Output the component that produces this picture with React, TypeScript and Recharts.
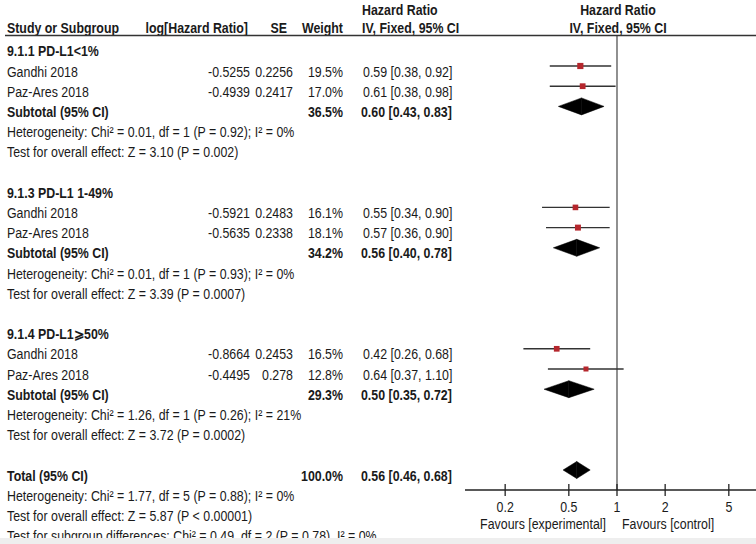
import { ComposedChart, XAxis, YAxis, Scatter, ReferenceLine, ReferenceArea } from "recharts"

// forest plot data
const subgroups = ["9.1.1 PD-L1<1%", "9.1.3 PD-L1 1-49%", "9.1.4 PD-L1⩾50%"]
const studyNames = ["Gandhi 2018", "Paz-Ares 2018"]
const logHR = [[-0.5255, -0.4939], [-0.5921, -0.5635], [-0.8664, -0.4495]]
const seVals = [[0.2256, 0.2417], [0.2483, 0.2338], [0.2453, 0.278]]
const weights = [[19.5, 17.0], [16.1, 18.1], [16.5, 12.8]]
const hr = [[0.59, 0.61], [0.55, 0.57], [0.42, 0.64]]
const hrLow = [[0.38, 0.38], [0.34, 0.36], [0.26, 0.37]]
const hrHigh = [[0.92, 0.98], [0.90, 0.90], [0.68, 1.10]]

const subWeight = [36.5, 34.2, 29.3]
const subHR = [0.60, 0.56, 0.50]
const subLow = [0.43, 0.40, 0.35]
const subHigh = [0.83, 0.78, 0.72]
const heterogeneity = [
    "Heterogeneity: Chi² = 0.01, df = 1 (P = 0.92); I² = 0%",
    "Heterogeneity: Chi² = 0.01, df = 1 (P = 0.93); I² = 0%",
    "Heterogeneity: Chi² = 1.26, df = 1 (P = 0.26); I² = 21%",
]
const overallEffect = [
    "Test for overall effect: Z = 3.10 (P = 0.002)",
    "Test for overall effect: Z = 3.39 (P = 0.0007)",
    "Test for overall effect: Z = 3.72 (P = 0.0002)",
]

const totalWeight = 100.0
const totalHR = 0.56
const totalLow = 0.46
const totalHigh = 0.68
const totalNotes = [
    "Heterogeneity: Chi² = 1.77, df = 5 (P = 0.88); I² = 0%",
    "Test for overall effect: Z = 5.87 (P < 0.00001)",
    "Test for subgroup differences: Chi² = 0.49, df = 2 (P = 0.78), I² = 0%",
]
const xTicks = [0.2, 0.5, 1, 2, 5]

// layout
const ROW_Y0 = 56.5
const ROW_H = 20.2
const SX = 0.885
const FONT = "'Liberation Sans', Arial, sans-serif"
const TOTAL_ROW = 21
const groupStart = (g: number) => g * 7
const baseY = (row: number) => ROW_Y0 + ROW_H * row
const DIAMOND_H = 0.42

const fmt = (v: number) => v.toFixed(2)
const ciText = (v: number, lo: number, hi: number) => `${fmt(v)} [${fmt(lo)}, ${fmt(hi)}]`

const studyPoints = hr.flatMap((grp, g) =>
    grp.map((v, j) => ({ x: v, y: groupStart(g) + 1 + j, w: weights[g][j], lo: hrLow[g][j], hi: hrHigh[g][j] }))
)
const diamonds = [
    ...subHR.map((v, g) => ({ est: v, lo: subLow[g], hi: subHigh[g], row: groupStart(g) + 3 })),
    { est: totalHR, lo: totalLow, hi: totalHigh, row: TOTAL_ROW },
]

function T({ x, y, anchor = "start", bold = false, children }: any) {
    return (
        <text x={x / SX} y={y} textAnchor={anchor} fontWeight={bold ? "bold" : "normal"}>
            {children}
        </text>
    )
}

function AxisTick(props: any) {
    const { x, y, payload } = props
    return (
        <g>
            <line x1={x} x2={x} y1={y - 6} y2={y + 6} stroke="#222" strokeWidth={1.3} />
            <text transform={`translate(${x},${y + 21.5}) scale(${SX},1)`} textAnchor="middle"
                fontSize={14} fontFamily={FONT} fill="#1a1a1a">
                {String(payload.value)}
            </text>
        </g>
    )
}

function Table() {
    const rows: any[] = []
    subgroups.forEach((name, g) => {
        const s = groupStart(g)
        rows.push(<T key={`g${g}`} x={7} y={baseY(s)} bold>{name}</T>)
        studyNames.forEach((st, j) => {
            const y = baseY(s + 1 + j)
            rows.push(
                <g key={`s${g}${j}`}>
                    <T x={7} y={y}>{st}</T>
                    <T x={250} y={y} anchor="end">{String(logHR[g][j])}</T>
                    <T x={293} y={y} anchor="end">{String(seVals[g][j])}</T>
                    <T x={343} y={y} anchor="end">{weights[g][j].toFixed(1)}%</T>
                    <T x={363} y={y}>{ciText(hr[g][j], hrLow[g][j], hrHigh[g][j])}</T>
                </g>
            )
        })
        const ys = baseY(s + 3)
        rows.push(
            <g key={`sub${g}`}>
                <T x={7} y={ys} bold>Subtotal (95% CI)</T>
                <T x={343} y={ys} anchor="end" bold>{subWeight[g].toFixed(1)}%</T>
                <T x={361} y={ys} bold>{ciText(subHR[g], subLow[g], subHigh[g])}</T>
                <T x={7} y={baseY(s + 4)}>{heterogeneity[g]}</T>
                <T x={7} y={baseY(s + 5)}>{overallEffect[g]}</T>
            </g>
        )
    })
    const yt = baseY(TOTAL_ROW)
    rows.push(
        <g key="total">
            <T x={7} y={yt} bold>Total (95% CI)</T>
            <T x={343} y={yt} anchor="end" bold>{totalWeight.toFixed(1)}%</T>
            <T x={361} y={yt} bold>{ciText(totalHR, totalLow, totalHigh)}</T>
            {totalNotes.map((n, i) => <T key={i} x={7} y={baseY(TOTAL_ROW + 1 + i)}>{n}</T>)}
        </g>
    )
    return (
        <svg width={756} height={544} style={{ position: "absolute", left: 0, top: 0, pointerEvents: "none" }}>
            <g transform={`scale(${SX},1)`} fontFamily={FONT} fontSize={14} fill="#1a1a1a">
                <T x={362} y={15} bold>Hazard Ratio</T>
                <T x={618} y={15} anchor="middle" bold>Hazard Ratio</T>
                <T x={7} y={33} bold>Study or Subgroup</T>
                <T x={248} y={33} anchor="end" bold>log[Hazard Ratio]</T>
                <T x={287} y={33} anchor="end" bold>SE</T>
                <T x={343} y={33} anchor="end" bold>Weight</T>
                <T x={362} y={33} bold>IV, Fixed, 95% CI</T>
                <T x={618} y={33} anchor="middle" bold>IV, Fixed, 95% CI</T>
                {rows}
                <T x={606} y={529} anchor="end">Favours [experimental]</T>
                <T x={622} y={529}>Favours [control]</T>
            </g>
            <line x1={5} x2={756} y1={35.5} y2={35.5} stroke="#333" strokeWidth={1.3} />
            <rect x={0} y={538} width={756} height={6} fill="#eeeeee" />
        </svg>
    )
}

export default function App() {
    return (
        <div style={{ position: "absolute", left: 0, top: 0, width: 756, height: 544, background: "#fff", overflow: "hidden" }}>
            <ComposedChart width={756} height={544} margin={{ top: 36, right: 0, bottom: 24, left: 465 }}>
                <XAxis type="number" dataKey="x" scale="log" domain={[0.1122, 7.393]} allowDataOverflow
                    ticks={xTicks} interval={0} height={30} tickSize={0} tickMargin={0} tickLine={false}
                    axisLine={{ stroke: "#222", strokeWidth: 1.3 }} tick={<AxisTick />} />
                <YAxis type="number" dataKey="y" domain={[-0.485, 21.99]} reversed hide allowDataOverflow />
                <ReferenceLine x={1} stroke="#555" strokeWidth={1.3} />
                {studyPoints.map((p, i) => (
                    <ReferenceLine key={`ci${i}`} segment={[{ x: p.lo, y: p.y }, { x: p.hi, y: p.y }]}
                        stroke="#333" strokeWidth={1.4} />
                ))}
                {diamonds.map((d, i) => (
                    <ReferenceArea key={`dl${i}`} x1={d.lo} x2={d.est} y1={d.row - DIAMOND_H} y2={d.row + DIAMOND_H}
                        shape={(r: any) => (
                            <polygon points={`${r.x},${r.y + r.height / 2} ${r.x + r.width},${r.y} ${r.x + r.width},${r.y + r.height}`}
                                fill="#000" stroke="#000" strokeWidth={0.5} />
                        )} />
                ))}
                {diamonds.map((d, i) => (
                    <ReferenceArea key={`dr${i}`} x1={d.est} x2={d.hi} y1={d.row - DIAMOND_H} y2={d.row + DIAMOND_H}
                        shape={(r: any) => (
                            <polygon points={`${r.x},${r.y} ${r.x + r.width},${r.y + r.height / 2} ${r.x},${r.y + r.height}`}
                                fill="#000" stroke="#000" strokeWidth={0.5} />
                        )} />
                ))}
                <Scatter data={studyPoints} dataKey="y" isAnimationActive={false}
                    shape={(p: any) => {
                        const s = 1.4 * Math.sqrt(p.payload.w)
                        return <rect x={p.cx - s / 2} y={p.cy - s / 2} width={s} height={s} fill="#b5272d" />
                    }} />
            </ComposedChart>
            <Table />
        </div>
    )
}
